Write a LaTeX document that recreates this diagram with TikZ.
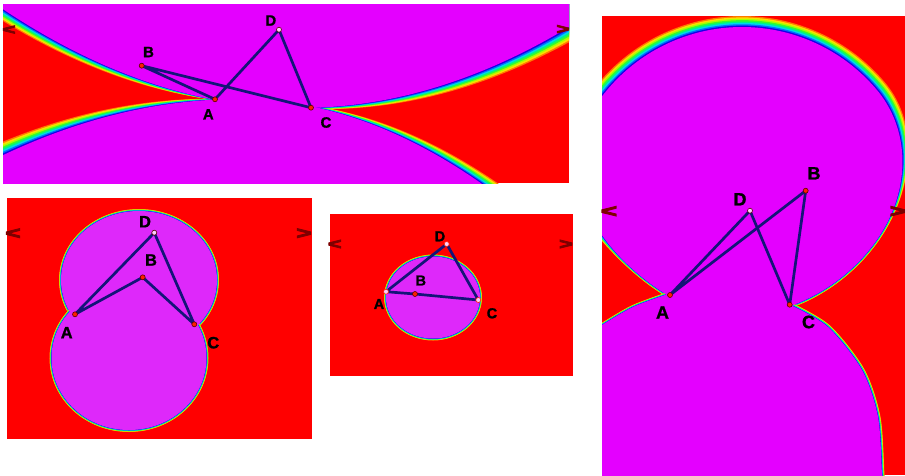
\documentclass[tikz,border=0pt]{standalone}
\usepackage{fontspec}
\setmainfont{Liberation Sans}
\newfontfamily\labfont{Liberation Sans Bold}[FakeBold=1.2]
\newfontfamily\chvfont{Liberation Sans Bold}[FakeBold=5]
\usepackage{graphicx}
\definecolor{redbg}{RGB}{255,0,0}
\definecolor{magA}{RGB}{228,0,255}
\definecolor{magB}{RGB}{222,40,250}
\definecolor{b1}{RGB}{255,120,0}
\definecolor{b2}{RGB}{255,220,0}
\definecolor{b3}{RGB}{170,255,0}
\definecolor{b4}{RGB}{60,250,40}
\definecolor{b5}{RGB}{0,245,130}
\definecolor{b6}{RGB}{0,215,235}
\definecolor{b7}{RGB}{0,110,255}
\definecolor{b8}{RGB}{25,0,230}
\definecolor{navy}{RGB}{20,20,120}
\definecolor{chev}{RGB}{125,0,0}
\definecolor{dotred}{RGB}{255,30,0}
\definecolor{dotpink}{RGB}{250,205,250}
\definecolor{dotline}{RGB}{90,0,0}
\newcommand\bandlist{b1/1,b2/0.875,b3/0.75,b4/0.625,b5/0.5,b6/0.375,b7/0.25,b8/0.125}
\newcommand\thinband[2]{\foreach \col/\f in \bandlist {\pgfmathsetmacro\lw{2*#1*\f}\draw[\col,line width=\lw pt] #2;}}
\tikzset{
  edge/.style={navy, line width=2.7pt, line cap=round, line join=round},
  vtx/.style={circle, draw=dotline, fill=dotred, line width=0.6pt, minimum size=5pt, inner sep=0pt},
  vtxw/.style={vtx, fill=dotpink},
  vtxr/.style={vtx, draw=dotred, fill=dotpink},
  lab/.style={font=\labfont\fontsize{#1}{#1}\selectfont, inner sep=0pt, text=black},
  chv/.style={font=\chvfont\fontsize{#1}{#1}\selectfont, inner sep=0pt, text=chev},
}
\begin{document}
\begin{tikzpicture}[x=1pt,y=-1pt,
  declare function={
    UA(\x)=108-(0.033466*(\x-300))*(0.033466*(\x-300));
    WUA(\x)=max(0.6,0.055*abs(\x-255)-2);
    LA(\x)=99+((\x<240)?((0.031623*(\x-240))*(0.031623*(\x-240))):((0.038079*(\x-240))*(0.038079*(\x-240))));
    WLA(\x)=max(0.6,0.06*abs(\x-262)-2);
    RD(\x)=(\x<40)?(176-66*(1-exp(-((40-\x)/62)*((40-\x)/62)))):((\x>150)?(176-62*(1-exp(-((\x-150)/50)*((\x-150)/50)))):176);
    WD(\x)=2+9*exp(-(max(0,40-\x)/28)*(max(0,40-\x)/28))*exp(-(max(0,\x-170)/20)*(max(0,\x-170)/20));
  }]
\useasboundingbox (0,0) rectangle (905,475);
\fill[white] (0,0) rectangle (905,475);

% ---------------- panel 1 ----------------
\begin{scope}
\clip (3,4) rectangle (569,183);
\fill[redbg] (3,4) rectangle (569,183);
\foreach \col/\lev in \bandlist {
  \fill[\col] plot[domain=-10:580,samples=150] (\x,{UA(\x)+\lev*WUA(\x)}) -- (580,-20) -- (-10,-20) -- cycle;
  \fill[\col] plot[domain=-10:580,samples=150] (\x,{LA(\x)-\lev*WLA(\x)}) -- (580,200) -- (-10,200) -- cycle;
}
\fill[magA] plot[domain=-10:580,samples=150] (\x,{UA(\x)}) -- (580,-20) -- (-10,-20) -- cycle;
\fill[magA] plot[domain=-10:580,samples=150] (\x,{LA(\x)}) -- (580,200) -- (-10,200) -- cycle;
\end{scope}
\coordinate (pA1) at (215,99.3);
\coordinate (pB1) at (141.7,65.7);
\coordinate (pC1) at (311,107.7);
\coordinate (pD1) at (279,29.7);
\draw[edge] (pA1) -- (pB1) -- (pC1) -- (pD1) -- cycle;
\node[vtx] (nA1) at (pA1) {};
\node[vtx] (nB1) at (pB1) {};
\node[vtx] (nC1) at (pC1) {};
\node[vtxw] (nD1) at (pD1) {};
\node[lab=15] (lA1) at (208.3,114.3) {A};
\node[lab=15] (lB1) at (148.5,52) {B};
\node[lab=15] (lC1) at (326,122.5) {C};
\node[lab=15] (lD1) at (270.8,20.5) {D};
\node[chv=17] (ll1) at (9,30) {\scalebox{1.3}[0.85]{<}};
\node[chv=17] (lr1) at (563,29.5) {\scalebox{1.3}[0.85]{>}};

% ---------------- panel 2 ----------------
\begin{scope}
\clip (7,198) rectangle (312,439);
\fill[redbg] (7,198) rectangle (312,439);
\thinband{2}{(139,280) ellipse [x radius=78,y radius=69]}
\thinband{2}{(129,358) ellipse [x radius=77.5,y radius=72]}
\fill[magB] (139,280) ellipse [x radius=78,y radius=69];
\fill[magB] (129,358) ellipse [x radius=77.5,y radius=72];
\end{scope}
\coordinate (pA2) at (75,314.3);
\coordinate (pB2) at (142.7,277.3);
\coordinate (pC2) at (194.3,324.3);
\coordinate (pD2) at (154.3,232.7);
\draw[edge] (pA2) -- (pB2) -- (pC2) -- (pD2) -- cycle;
\node[vtx] (nA2) at (pA2) {};
\node[vtx] (nB2) at (pB2) {};
\node[vtx] (nC2) at (pC2) {};
\node[vtxw] (nD2) at (pD2) {};
\node[lab=16.5] (lA2) at (66.7,332.7) {A};
\node[lab=16.5] (lB2) at (151,260) {B};
\node[lab=16.5] (lC2) at (213.3,342.7) {C};
\node[lab=16.5] (lD2) at (145,221.7) {D};
\node[chv=20] (ll2) at (13,233.7) {\scalebox{1.3}[0.85]{<}};
\node[chv=20] (lr2) at (304,233.7) {\scalebox{1.3}[0.85]{>}};

% ---------------- panel 3 ----------------
\begin{scope}
\clip (330,214) rectangle (573,376);
\fill[redbg] (330,214) rectangle (573,376);
\thinband{2}{(433,297.5) ellipse [x radius=47,y radius=41]}
\fill[magB] (433,297.5) ellipse [x radius=47,y radius=41];
\end{scope}
\coordinate (pA3) at (386,291.7);
\coordinate (pB3) at (415,294);
\coordinate (pC3) at (478.3,300);
\coordinate (pD3) at (446.7,244);
\draw[edge] (pA3) -- (pB3) -- (pC3) -- (pD3) -- cycle;
\node[vtxr] (nA3) at (pA3) {};
\node[vtx] (nB3) at (pB3) {};
\node[vtxr] (nC3) at (pC3) {};
\node[vtxr] (nD3) at (pD3) {};
\node[lab=14.5] (lA3) at (379,304) {A};
\node[lab=14.5] (lB3) at (420.8,280.5) {B};
\node[lab=14.5] (lC3) at (492,313.3) {C};
\node[lab=14.5] (lD3) at (440,236.3) {D};
\node[chv=18] (ll3) at (334.7,244.5) {\scalebox{1.3}[0.85]{<}};
\node[chv=18] (lr3) at (566,244.5) {\scalebox{1.3}[0.85]{>}};

% ---------------- panel 4 ----------------
\begin{scope}
\clip (602,16) rectangle (905,475);
\fill[redbg] (602,16) rectangle (905,475);
\foreach \col/\lev in \bandlist {
  \fill[\col] plot[domain=-64.5:230.5,samples=200] ({742+(RD(\x)+\lev*WD(\x))*cos(\x)},{203-(RD(\x)+\lev*WD(\x))*sin(\x)}) -- cycle;
}
\thinband{2}{plot[smooth] coordinates {(666.6,294.5) (633,307) (602,325) (585,336)}}
\thinband{2.5}{plot[smooth] coordinates {(883,495) (882,475) (878,417) (862,370) (828,327) (790.6,305)}}
\fill[magA] plot[domain=-64.5:230.5,samples=200] ({742+RD(\x)*cos(\x)},{203-RD(\x)*sin(\x)})
  -- plot[smooth] coordinates {(666.6,294.5) (633,307) (602,325) (585,336)}
  -- (585,495) -- (883,495)
  -- plot[smooth] coordinates {(883,495) (882,475) (878,417) (862,370) (828,327) (790.6,305)} -- cycle;
\end{scope}
\coordinate (pA4) at (670,295);
\coordinate (pB4) at (805.7,190.7);
\coordinate (pC4) at (789.7,304.7);
\coordinate (pD4) at (750,210.7);
\draw[edge] (pA4) -- (pB4) -- (pC4) -- (pD4) -- cycle;
\node[vtx] (nA4) at (pA4) {};
\node[vtx] (nB4) at (pB4) {};
\node[vtx] (nC4) at (pC4) {};
\node[vtxw] (nD4) at (pD4) {};
\node[lab=18] (lA4) at (662.5,312.5) {A};
\node[lab=18] (lB4) at (814,173.3) {B};
\node[lab=18] (lC4) at (808.5,322) {C};
\node[lab=18] (lD4) at (740,199.3) {D};
\node[chv=21] (ll4) at (609,211.7) {\scalebox{1.3}[0.85]{<}};
\node[chv=21] (lr4) at (898,211.7) {\scalebox{1.3}[0.85]{>}};
\end{tikzpicture}
\end{document}
